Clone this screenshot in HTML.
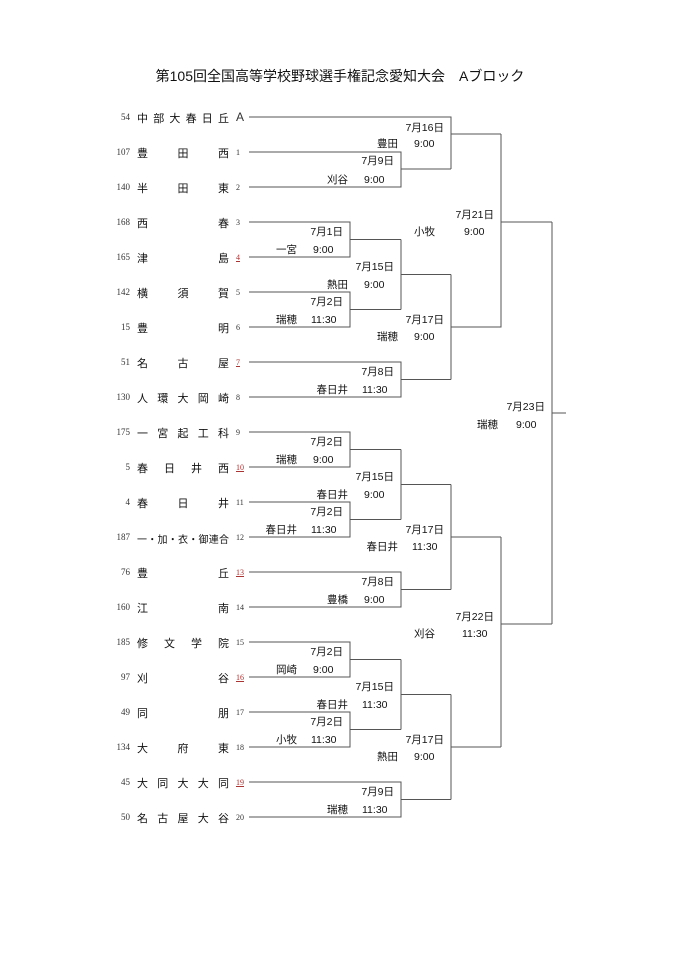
<!DOCTYPE html>
<html><head><meta charset="utf-8"><style>
body{margin:0;background:#fff;}
#p{position:relative;width:680px;height:961px;overflow:hidden;font-family:"Liberation Sans","Noto Sans CJK JP",sans-serif;color:#111;}
.t{position:absolute;left:0;top:66px;width:680px;text-align:center;font-size:14px;}
.r{position:absolute;left:100px;height:14px;width:150px;}
.n{position:absolute;left:0;width:30px;text-align:right;font-family:"Liberation Serif","Noto Serif CJK SC",serif;font-size:9px;top:2px;color:#333;}
.nm{position:absolute;left:37px;width:92px;display:flex;justify-content:space-between;font-size:11px;font-family:"Liberation Sans","Noto Sans CJK JP",sans-serif;}
.s{position:absolute;left:136px;font-family:"Liberation Serif",serif;font-size:8px;top:3px;color:#333;}
.red{color:#a33;text-decoration:underline;}
svg{position:absolute;left:0;top:0;}
</style></head><body><div id="p">
<div class="t">第105回全国高等学校野球選手権記念愛知大会　Aブロック</div>

<div class="r" style="top:110px"><span class="n">54</span><span class="nm"><span>中</span><span>部</span><span>大</span><span>春</span><span>日</span><span>丘</span></span><span class="s" style="font-family:'Liberation Sans',sans-serif;font-size:12px;top:0">A</span></div>
<div class="r" style="top:145px"><span class="n">107</span><span class="nm"><span>豊</span><span>田</span><span>西</span></span><span class="s">1</span></div>
<div class="r" style="top:180px"><span class="n">140</span><span class="nm"><span>半</span><span>田</span><span>東</span></span><span class="s">2</span></div>
<div class="r" style="top:215px"><span class="n">168</span><span class="nm"><span>西</span><span>春</span></span><span class="s">3</span></div>
<div class="r" style="top:250px"><span class="n">165</span><span class="nm"><span>津</span><span>島</span></span><span class="s red">4</span></div>
<div class="r" style="top:285px"><span class="n">142</span><span class="nm"><span>横</span><span>須</span><span>賀</span></span><span class="s">5</span></div>
<div class="r" style="top:320px"><span class="n">15</span><span class="nm"><span>豊</span><span>明</span></span><span class="s">6</span></div>
<div class="r" style="top:355px"><span class="n">51</span><span class="nm"><span>名</span><span>古</span><span>屋</span></span><span class="s red">7</span></div>
<div class="r" style="top:390px"><span class="n">130</span><span class="nm"><span>人</span><span>環</span><span>大</span><span>岡</span><span>崎</span></span><span class="s">8</span></div>
<div class="r" style="top:425px"><span class="n">175</span><span class="nm"><span>一</span><span>宮</span><span>起</span><span>工</span><span>科</span></span><span class="s">9</span></div>
<div class="r" style="top:460px"><span class="n">5</span><span class="nm"><span>春</span><span>日</span><span>井</span><span>西</span></span><span class="s red">10</span></div>
<div class="r" style="top:495px"><span class="n">4</span><span class="nm"><span>春</span><span>日</span><span>井</span></span><span class="s">11</span></div>
<div class="r" style="top:530px"><span class="n">187</span><span class="nm" style="font-size:10px;top:1px"><span>一</span><span>・</span><span>加</span><span>・</span><span>衣</span><span>・</span><span>御</span><span>連</span><span>合</span></span><span class="s">12</span></div>
<div class="r" style="top:565px"><span class="n">76</span><span class="nm"><span>豊</span><span>丘</span></span><span class="s red">13</span></div>
<div class="r" style="top:600px"><span class="n">160</span><span class="nm"><span>江</span><span>南</span></span><span class="s">14</span></div>
<div class="r" style="top:635px"><span class="n">185</span><span class="nm"><span>修</span><span>文</span><span>学</span><span>院</span></span><span class="s">15</span></div>
<div class="r" style="top:670px"><span class="n">97</span><span class="nm"><span>刈</span><span>谷</span></span><span class="s red">16</span></div>
<div class="r" style="top:705px"><span class="n">49</span><span class="nm"><span>同</span><span>朋</span></span><span class="s">17</span></div>
<div class="r" style="top:740px"><span class="n">134</span><span class="nm"><span>大</span><span>府</span><span>東</span></span><span class="s">18</span></div>
<div class="r" style="top:775px"><span class="n">45</span><span class="nm"><span>大</span><span>同</span><span>大</span><span>大</span><span>同</span></span><span class="s red">19</span></div>
<div class="r" style="top:810px"><span class="n">50</span><span class="nm"><span>名</span><span>古</span><span>屋</span><span>大</span><span>谷</span></span><span class="s">20</span></div>

<svg width="680" height="961" viewBox="0 0 680 961">
<g stroke="#555" stroke-width="1" fill="none">
<path d="M249 117H451V169"/>
<path d="M249 152H401V187H249M401 169H451M451 134H501"/>
<path d="M249 222H350V257H249M350 239.5H401"/>
<path d="M249 292H350V327H249M350 309.5H401"/>
<path d="M401 239.5V309.5M401 274.5H451"/>
<path d="M249 362H401V397H249M401 379.5H451"/>
<path d="M451 274.5V379.5M451 327H501V134M501 222H552"/>
<path d="M249 432H350V467H249M350 449.5H401"/>
<path d="M249 502H350V537H249M350 519.5H401"/>
<path d="M401 449.5V519.5M401 484.5H451"/>
<path d="M249 572H401V607H249M401 589.5H451"/>
<path d="M451 484.5V589.5M451 537H501"/>
<path d="M249 642H350V677H249M350 659.5H401"/>
<path d="M249 712H350V747H249M350 729.5H401"/>
<path d="M401 659.5V729.5M401 694.5H451"/>
<path d="M249 782H401V817H249M401 799.5H451"/>
<path d="M451 694.5V799.5M451 747H501"/>
<path d="M501 537V747M501 624H552"/>
<path d="M552 222V624M552 413H566"/>
</g>
<g font-family="Liberation Sans, Noto Sans CJK JP, sans-serif" font-size="10.5" fill="#111">
<text x="394" y="164" text-anchor="end">7月9日</text><text x="348" y="183" text-anchor="end">刈谷</text><text x="364" y="183">9:00</text>
<text x="444" y="131" text-anchor="end">7月16日</text><text x="398" y="147" text-anchor="end">豊田</text><text x="414" y="147">9:00</text>
<text x="343" y="235" text-anchor="end">7月1日</text><text x="297" y="253" text-anchor="end">一宮</text><text x="313" y="253">9:00</text>
<text x="343" y="305" text-anchor="end">7月2日</text><text x="297" y="323" text-anchor="end">瑞穂</text><text x="311" y="323">11:30</text>
<text x="394" y="270" text-anchor="end">7月15日</text><text x="348" y="288" text-anchor="end">熱田</text><text x="364" y="288">9:00</text>
<text x="394" y="375" text-anchor="end">7月8日</text><text x="348" y="393" text-anchor="end">春日井</text><text x="362" y="393">11:30</text>
<text x="444" y="323" text-anchor="end">7月17日</text><text x="398" y="340" text-anchor="end">瑞穂</text><text x="414" y="340">9:00</text>
<text x="494" y="218" text-anchor="end">7月21日</text><text x="435" y="235" text-anchor="end">小牧</text><text x="464" y="235">9:00</text>
<text x="343" y="445" text-anchor="end">7月2日</text><text x="297" y="463" text-anchor="end">瑞穂</text><text x="313" y="463">9:00</text>
<text x="343" y="515" text-anchor="end">7月2日</text><text x="297" y="533" text-anchor="end">春日井</text><text x="311" y="533">11:30</text>
<text x="394" y="480" text-anchor="end">7月15日</text><text x="348" y="498" text-anchor="end">春日井</text><text x="364" y="498">9:00</text>
<text x="394" y="585" text-anchor="end">7月8日</text><text x="348" y="603" text-anchor="end">豊橋</text><text x="364" y="603">9:00</text>
<text x="444" y="533" text-anchor="end">7月17日</text><text x="398" y="550" text-anchor="end">春日井</text><text x="412" y="550">11:30</text>
<text x="343" y="655" text-anchor="end">7月2日</text><text x="297" y="673" text-anchor="end">岡崎</text><text x="313" y="673">9:00</text>
<text x="343" y="725" text-anchor="end">7月2日</text><text x="297" y="743" text-anchor="end">小牧</text><text x="311" y="743">11:30</text>
<text x="394" y="690" text-anchor="end">7月15日</text><text x="348" y="708" text-anchor="end">春日井</text><text x="362" y="708">11:30</text>
<text x="394" y="795" text-anchor="end">7月9日</text><text x="348" y="813" text-anchor="end">瑞穂</text><text x="362" y="813">11:30</text>
<text x="444" y="743" text-anchor="end">7月17日</text><text x="398" y="760" text-anchor="end">熱田</text><text x="414" y="760">9:00</text>
<text x="494" y="620" text-anchor="end">7月22日</text><text x="435" y="637" text-anchor="end">刈谷</text><text x="462" y="637">11:30</text>
<text x="545" y="410" text-anchor="end">7月23日</text><text x="498" y="428" text-anchor="end">瑞穂</text><text x="516" y="428">9:00</text>
</g>
</svg>
</div></body></html>
